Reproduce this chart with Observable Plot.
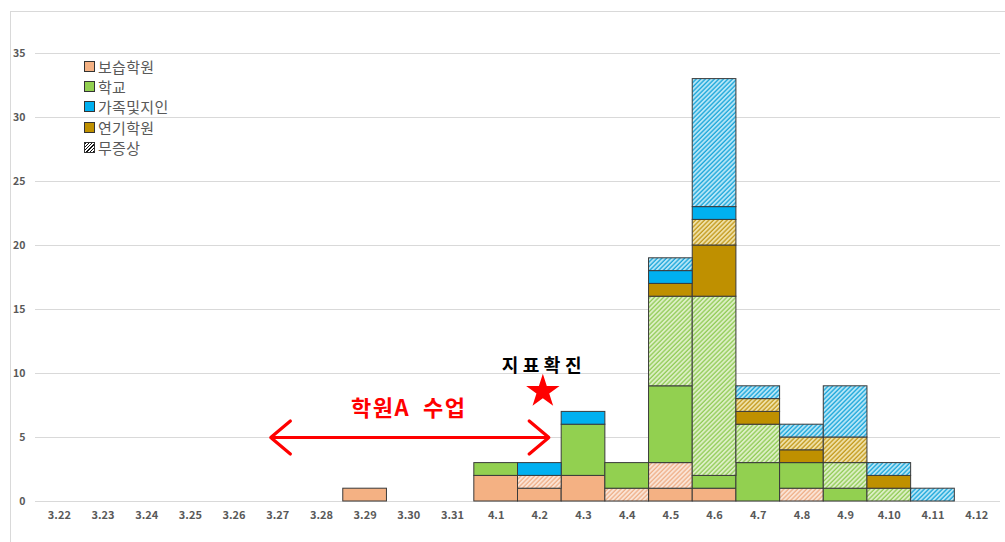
<!DOCTYPE html>
<html>
<head>
<meta charset="utf-8">
<script src="https://cdn.jsdelivr.net/npm/d3@7"></script>
<script src="https://cdn.jsdelivr.net/npm/@observablehq/plot@0.6"></script>
<style>
  html, body { margin: 0; padding: 0; background: #fff; }
  #wrap { position: relative; width: 1005px; height: 542px; overflow: hidden; }
  #frame { position: absolute; left: 10px; top: 11px; right: -2px; bottom: -2px; border: 1px solid #d9d9d9; }
  #chart { position: absolute; left: 0; top: 0; }
  #legend { position: absolute; left: 84px; top: 56px; font-family: "Noto Sans CJK KR", "Noto Sans", sans-serif; font-size: 15px; letter-spacing: 0.3px; color: #595959; }
  #legend .item { display: flex; align-items: center; height: 20.3px; }
  #legend .sw { width: 9px; height: 9px; border: 1px solid #333; margin-right: 3px; box-sizing: content-box; }
</style>
</head>
<body>
<div id="wrap">
  <div id="frame"></div>
  <div id="chart"></div>
  <div id="legend"></div>
</div>
<script>
// ---- data ----
const categories = ["3.22","3.23","3.24","3.25","3.26","3.27","3.28","3.29","3.30","3.31",
  "4.1","4.2","4.3","4.4","4.5","4.6","4.7","4.8","4.9","4.10","4.11","4.12"];
const yTicks = [0, 5, 10, 15, 20, 25, 30, 35];

const hagwon       = [0,0,0,0,0,0,0,1,0,0, 2,1,2,0,1,1,0,0,0,0,0,0];
const hagwonAsym   = [0,0,0,0,0,0,0,0,0,0, 0,1,0,1,2,0,0,1,0,0,0,0];
const school       = [0,0,0,0,0,0,0,0,0,0, 1,0,4,2,6,1,3,2,1,0,0,0];
const schoolAsym   = [0,0,0,0,0,0,0,0,0,0, 0,0,0,0,7,14,3,0,2,1,0,0];
const acting       = [0,0,0,0,0,0,0,0,0,0, 0,0,0,0,1,4,1,1,0,1,0,0];
const actingAsym   = [0,0,0,0,0,0,0,0,0,0, 0,0,0,0,0,2,1,1,2,0,0,0];
const family       = [0,0,0,0,0,0,0,0,0,0, 0,1,1,0,1,1,0,0,0,0,0,0];
const familyAsym   = [0,0,0,0,0,0,0,0,0,0, 0,0,0,0,1,10,1,1,4,1,1,0];

const legendLabels = ["보습학원", "학교", "가족및지인", "연기학원", "무증상"];
const colors = {hagwon: "#F4B183", school: "#92D050", family: "#00B0F0", acting: "#BF9000"};

// annotations
const classPeriod = {from: "3.27", mid: "3.30", to: "4.2", value: 5, label: "학원A\u00A0\u00A0수업", labelValue: 7.2};
const indexCase = {date: "4.2", starValue: 8.6, label: "지표확진", labelValue: 10.6};

const seriesList = [
  {key: "보습학원", values: hagwon, fill: colors.hagwon},
  {key: "보습학원 무증상", values: hagwonAsym, fill: "url(#hatch-hagwon)"},
  {key: "학교", values: school, fill: colors.school},
  {key: "학교 무증상", values: schoolAsym, fill: "url(#hatch-school)"},
  {key: "연기학원", values: acting, fill: colors.acting},
  {key: "연기학원 무증상", values: actingAsym, fill: "url(#hatch-acting)"},
  {key: "가족및지인", values: family, fill: colors.family},
  {key: "가족및지인 무증상", values: familyAsym, fill: "url(#hatch-family)"}
];

const rows = [];
for (const s of seriesList) {
  s.values.forEach((v, i) => {
    if (v > 0) rows.push({date: categories[i], series: s.key, value: v, fill: s.fill});
  });
}

const FONT = "'Noto Sans CJK KR', 'Noto Sans', sans-serif";

const svg = Plot.plot({
  width: 1005,
  height: 542,
  marginLeft: 37,
  marginRight: 7,
  marginTop: 53,
  marginBottom: 41,
  style: {fontFamily: FONT, color: "#595959", background: "transparent"},
  x: {type: "band", domain: categories, padding: 0, round: false, label: null},
  y: {domain: [0, 35], label: null},
  color: {type: "identity"},
  marks: [
    Plot.ruleY(yTicks, {stroke: "#d9d9d9", strokeWidth: 1, insetLeft: -2, insetRight: -2}),
    Plot.barY(rows, {x: "date", y: "value", z: "series", fill: "fill",
      order: seriesList.map(s => s.key), stroke: "#3a3a3a", strokeWidth: 1}),
    Plot.axisX({tickSize: 0, tickPadding: 10, fontWeight: "bold", fontSize: 11}),
    Plot.axisY({ticks: yTicks, tickSize: 0, tickPadding: 12, fontWeight: "bold", fontSize: 10.5}),
    Plot.arrow([classPeriod], {x1: "mid", x2: "from", y1: "value", y2: "value",
      stroke: "#FF0000", strokeWidth: 3.2, headLength: 12, headAngle: 80, insetEnd: -7}),
    Plot.arrow([classPeriod], {x1: "mid", x2: "to", y1: "value", y2: "value",
      stroke: "#FF0000", strokeWidth: 3.2, headLength: 12, headAngle: 80, insetEnd: -9}),
    Plot.text([classPeriod], {x: "mid", y: "labelValue", text: "label",
      fill: "#FF0000", fontSize: 22, fontWeight: "bold"}),
    Plot.dot([indexCase], {x: "date", y: "starValue", symbol: "star", r: 10.5, fill: "#FF0000", stroke: "none", dx: 3}),
    Plot.text([indexCase], {x: "date", y: "labelValue", text: "label",
      fill: "#000", fontSize: 18, fontWeight: "bold", dx: 4})
  ]
});

// hatch patterns
const defs = d3.select(svg).insert("defs", ":first-child");
const hatchDefs = [
  {id: "hatch-hagwon", bg: "#FBE7DA", line: "#EFB089"},
  {id: "hatch-school", bg: "#E1F1CB", line: "#92CC58"},
  {id: "hatch-acting", bg: "#F2E4AE", line: "#C39A1E"},
  {id: "hatch-family", bg: "#BDE9F8", line: "#1AA6DA"}
];
for (const h of hatchDefs) {
  const p = defs.append("pattern").attr("id", h.id).attr("patternUnits", "userSpaceOnUse")
    .attr("width", 3.2).attr("height", 3.2).attr("patternTransform", "rotate(45)");
  p.append("rect").attr("width", 3.2).attr("height", 3.2).attr("fill", h.bg);
  p.append("line").attr("x1", 1).attr("x2", 1).attr("y1", 0).attr("y2", 3.2)
    .attr("stroke", h.line).attr("stroke-width", 1.4);
}
d3.select(svg).selectAll("text").filter(function() { return this.textContent === indexCase.label; })
  .attr("letter-spacing", "4.5px");
d3.select(svg).selectAll("text").filter(function() { return this.textContent === classPeriod.label; })
  .attr("letter-spacing", "1.5px");

document.getElementById("chart").appendChild(svg);

// legend
const legend = document.getElementById("legend");
const swFills = [colors.hagwon, colors.school, colors.family, colors.acting, null];
legendLabels.forEach((lab, i) => {
  const item = document.createElement("div");
  item.className = "item";
  const sw = document.createElement("span");
  sw.className = "sw";
  if (swFills[i]) sw.style.background = swFills[i];
  else sw.style.background = "repeating-linear-gradient(-45deg, #111 0 1px, #fff 1px 2.4px)";
  const tx = document.createElement("span");
  tx.textContent = lab;
  item.appendChild(sw);
  item.appendChild(tx);
  legend.appendChild(item);
});
</script>
</body>
</html>
